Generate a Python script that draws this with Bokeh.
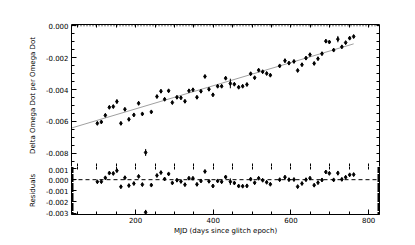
import numpy as np
from bokeh.plotting import figure
from bokeh.models import (Range1d, LinearAxis, SingleIntervalTicker, FixedTicker, PrintfTickFormatter, Span)
from bokeh.layouts import column
from bokeh.embed import file_html
from bokeh.resources import INLINE

# MJD (days since glitch epoch)
mjd = [101.5, 111.8, 122.1, 132.4, 142.6, 151.9, 162.2, 172.5, 182.8, 195.6,
       207.8, 217.4, 225.9, 240.5, 255.0, 265.3, 274.8, 285.1, 294.6, 306.5,
       316.8, 327.1, 337.4, 347.7, 358.0, 368.3, 378.6, 388.9, 399.2, 411.3,
       421.6, 431.9, 444.0, 454.3, 465.4, 475.7, 486.7, 496.3, 506.6, 516.9,
       527.2, 537.5, 547.0, 571.0, 584.6, 594.9, 607.8, 617.3, 628.4, 638.7,
       649.0, 659.8, 669.6, 679.9, 689.9, 698.9, 710.0, 720.8, 731.1, 740.9,
       751.2, 761.5]

# Delta Omega Dot per Omega Dot
dnu = [-0.006123, -0.006035, -0.005619, -0.005115, -0.005071, -0.004756, -0.006123, -0.005241, -0.005871, -0.005594,
       -0.004863, -0.005531, -0.007950, -0.005405, -0.004441, -0.004107, -0.004611, -0.004082, -0.004819, -0.004485,
       -0.004523, -0.004737, -0.004082, -0.004019, -0.004485, -0.004107, -0.003181, -0.003981, -0.004334, -0.003792,
       -0.003792, -0.003288, -0.003622, -0.003666, -0.003855, -0.003792, -0.003685, -0.003011, -0.003263, -0.002784,
       -0.002885, -0.002992, -0.003099, -0.002520, -0.002192, -0.002343, -0.002236, -0.002803, -0.002444, -0.002028,
       -0.001814, -0.002362, -0.002066, -0.001751, -0.000964, -0.001020, -0.001524, -0.000838, -0.001323, -0.001058,
       -0.000775, -0.000674]

# Residuals
resid = [-0.000191, -0.000178, 0.000163, 0.000592, 0.000561, 0.000809, -0.000633, 0.000174, -0.000531, -0.000347,
         0.000295, -0.000442, -0.002922, -0.000484, 0.000375, 0.000634, 0.000060, 0.000515, -0.000292, -0.000044,
         -0.000157, -0.000446, 0.000134, 0.000122, -0.000419, -0.000116, 0.000735, -0.000140, -0.000568, -0.000114,
         -0.000189, 0.000240, -0.000181, -0.000300, -0.000570, -0.000582, -0.000556, 0.000049, -0.000278, 0.000126,
         -0.000050, -0.000232, -0.000408, -0.000003, 0.000226, -0.000001, 0.000013, -0.000624, -0.000345, -0.000004,
         0.000135, -0.000492, -0.000267, -0.000027, 0.000687, 0.000565, -0.000020, 0.000588, 0.000028, 0.000222,
         0.000430, 0.000456]

# error bars
err = [0.00008, 0.00008, 0.00008, 0.00008, 0.00008, 0.00012, 0.00008, 0.00008, 0.00008, 0.00008,
       0.00012, 0.00008, 0.00022, 0.00008, 0.00008, 0.00010, 0.00008, 0.00008, 0.00008, 0.00008,
       0.00008, 0.00008, 0.00008, 0.00008, 0.00008, 0.00008, 0.00008, 0.00008, 0.00008, 0.00008,
       0.00008, 0.00010, 0.00030, 0.00008, 0.00008, 0.00008, 0.00008, 0.00008, 0.00008, 0.00008,
       0.00008, 0.00008, 0.00008, 0.00008, 0.00012, 0.00008, 0.00008, 0.00008, 0.00008, 0.00008,
       0.00008, 0.00008, 0.00008, 0.00008, 0.00010, 0.00008, 0.00008, 0.00020, 0.00008, 0.00008,
       0.00008, 0.00008]

# linear fit line end points
fit_x = [35.3, 761.5]
fit_y = [-0.006413, -0.001134]

x_title = "MJD (days since glitch epoch)"
y_title_top = "Delta Omega Dot per Omega Dot"
y_title_bot = "Residuals"

FONT = "DejaVu Sans"
FS = "7px"

X_LO, X_HI = 35, 828
Y1_LO, Y1_HI = -0.00883, 0.00008
Y2_LO, Y2_HI = -0.00312, 0.00118


def style_axis(ax, minor_len=3, line=True):
    ax.major_tick_in = 5
    ax.major_tick_out = 0
    ax.minor_tick_in = minor_len
    ax.minor_tick_out = 0
    ax.axis_line_color = "black" if line else None
    ax.major_tick_line_color = "black"
    ax.minor_tick_line_color = "black"
    ax.major_label_text_font = FONT
    ax.major_label_text_font_size = FS
    ax.major_label_text_color = "black"
    ax.major_label_standoff = 3
    ax.axis_label_text_font = FONT
    ax.axis_label_text_font_size = FS
    ax.axis_label_text_font_style = "normal"
    ax.axis_label_text_color = "black"


def bare_axis(step, lo, hi, tick_len=3, line=True):
    # axis without labels: every tick drawn as a "minor" tick, so no label is produced
    start = np.ceil(lo / step) * step
    ticks = [float(t) for t in np.arange(start, hi + step * 1e-6, step)]
    ax = LinearAxis(ticker=FixedTicker(ticks=[], minor_ticks=ticks))
    style_axis(ax, minor_len=tick_len, line=line)
    ax.major_label_standoff = 0
    return ax


xr = Range1d(X_LO, X_HI)

p1 = figure(width=408, height=166, x_range=xr, y_range=Range1d(Y1_LO, Y1_HI),
            output_backend="svg", toolbar_location=None,
            x_axis_location=None, y_axis_location=None,
            min_border_left=71, min_border_right=29, min_border_top=24, min_border_bottom=0)
p1.grid.visible = False
p1.outline_line_color = None
p1.background_fill_color = "white"
p1.border_fill_color = "white"

yt1 = SingleIntervalTicker(interval=0.002, num_minor_ticks=4)
xt = SingleIntervalTicker(interval=200, num_minor_ticks=4)

ax = LinearAxis(ticker=yt1, formatter=PrintfTickFormatter(format="%.3f"), axis_label=y_title_top)
style_axis(ax)
ax.axis_label_standoff = 6
p1.add_layout(ax, "left")
p1.add_layout(bare_axis(0.0005, Y1_LO, Y1_HI), "right")
p1.add_layout(bare_axis(50, X_LO, X_HI), "above")
p1.add_layout(bare_axis(50, X_LO, X_HI), "below")

p1.add_layout(Span(location=0, dimension="width", line_color="black", line_dash="1 2", line_width=1))
p1.line(fit_x, fit_y, line_color="#a0a0a0", line_width=1)
p1.segment(x0=mjd, y0=[v - e for v, e in zip(dnu, err)], x1=mjd, y1=[v + e for v, e in zip(dnu, err)],
           line_color="black", line_width=1)
p1.scatter(mjd, dnu, marker="diamond", size=4, fill_color="black", line_color="black")

p2 = figure(width=408, height=72, x_range=xr, y_range=Range1d(Y2_LO, Y2_HI),
            output_backend="svg", toolbar_location=None,
            x_axis_location=None, y_axis_location=None,
            min_border_left=71, min_border_right=29, min_border_top=0, min_border_bottom=24)
p2.grid.visible = False
p2.outline_line_color = None
p2.background_fill_color = "white"
p2.border_fill_color = "white"

yt2 = SingleIntervalTicker(interval=0.001, num_minor_ticks=10)
ax = LinearAxis(ticker=yt2, formatter=PrintfTickFormatter(format="%.3f"), axis_label=y_title_bot)
style_axis(ax, minor_len=2)
ax.axis_label_standoff = 6
p2.add_layout(ax, "left")
p2.add_layout(bare_axis(0.0001, Y2_LO, Y2_HI, tick_len=2), "right")
p2.add_layout(bare_axis(50, X_LO, X_HI, line=False), "above")
ax = LinearAxis(ticker=xt, formatter=PrintfTickFormatter(format="%d"), axis_label=x_title)
style_axis(ax)
ax.major_label_standoff = 2
ax.axis_label_standoff = 1
p2.add_layout(ax, "below")

p2.add_layout(Span(location=0, dimension="width", line_color="black", line_dash="4 3", line_width=1))
p2.segment(x0=mjd, y0=[v - e for v, e in zip(resid, err)], x1=mjd, y1=[v + e for v, e in zip(resid, err)],
           line_color="black", line_width=1)
p2.scatter(mjd, resid, marker="diamond", size=4, fill_color="black", line_color="black")

layout = column(p1, p2, spacing=0)
open("out.html", "w").write(file_html(layout, INLINE))
